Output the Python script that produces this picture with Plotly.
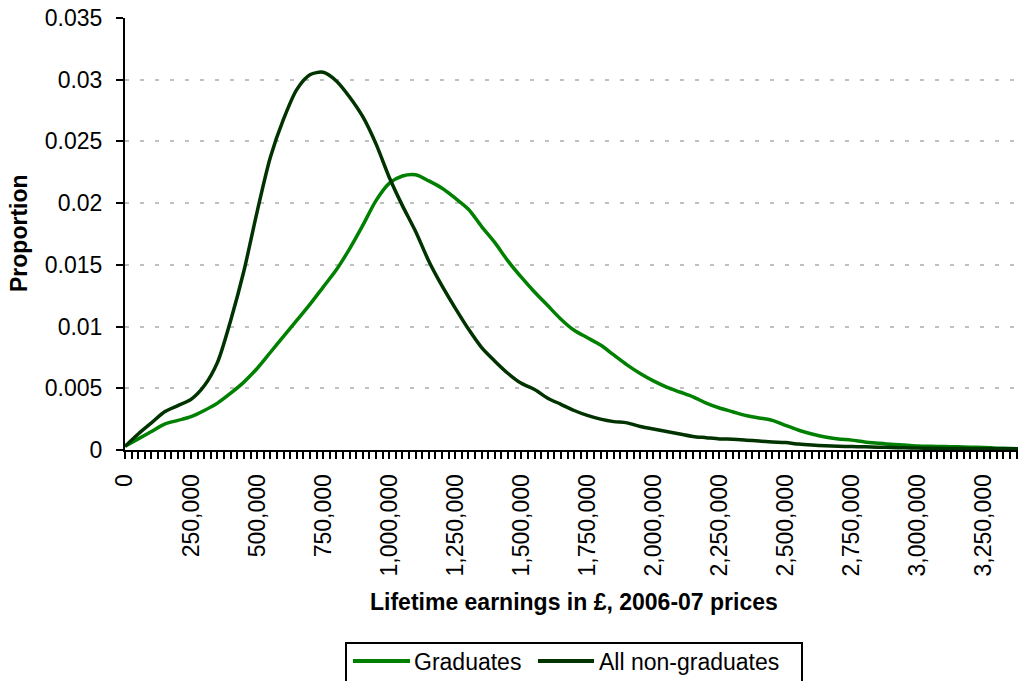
import plotly.graph_objects as go

earnings = [i * 50000 for i in range(69)]  # 0 .. 3,400,000

graduates = [
    0.0003, 0.0009, 0.0015, 0.0021, 0.0024, 0.0027, 0.0032, 0.0038, 0.0046, 0.0055,
    0.0066, 0.0079, 0.0092, 0.0105, 0.0118, 0.0132, 0.0146, 0.0163, 0.0182, 0.0202,
    0.0216, 0.0222, 0.0223, 0.0218, 0.0212, 0.0204, 0.0195, 0.0181, 0.0168, 0.0153,
    0.0140, 0.0128, 0.0117, 0.0106, 0.0097, 0.0091, 0.0085, 0.0077, 0.0069, 0.0062,
    0.0056, 0.0051, 0.0047, 0.0043, 0.0038, 0.0034, 0.0031, 0.0028, 0.0026, 0.0024,
    0.0020, 0.0016, 0.0013, 0.00106, 0.0009, 0.0008, 0.00065, 0.00055, 0.00046, 0.0004,
    0.00033, 0.0003, 0.00028, 0.00026, 0.00023, 0.0002, 0.00015, 0.00012, 0.0001,
]

non_graduates = [
    0.0003, 0.0013, 0.0022, 0.0031, 0.0036, 0.0041, 0.0052, 0.0071, 0.0105, 0.0145,
    0.0193, 0.0237, 0.0268, 0.0292, 0.0304, 0.0306, 0.0299, 0.0286, 0.0270, 0.0248,
    0.0221, 0.0198, 0.0177, 0.0153, 0.0133, 0.0115, 0.0098, 0.0083, 0.0072, 0.0062,
    0.0054, 0.0049, 0.0042, 0.0037, 0.0032, 0.0028, 0.0025, 0.0023, 0.0022, 0.0019,
    0.0017, 0.0015, 0.0013, 0.0011, 0.0010, 0.0009, 0.00087, 0.0008, 0.00072, 0.00065,
    0.0006, 0.00048, 0.0004, 0.00034, 0.0003, 0.00028, 0.00026, 0.00023, 0.0002, 0.00018,
    0.00016, 0.00014, 0.00013, 0.00012, 0.00011, 0.0001, 0.0001, 0.0001, 0.00009,
]

series_names = ["Graduates", "All non-graduates"]
series_colors = ["#008000", "#003300"]

x_title = "Lifetime earnings in £, 2006-07 prices"
y_title = "Proportion"

FONT = "Liberation Sans, Arial, sans-serif"
FS = 23

L, T, B = 125, 18, 231
W, H = 1018, 681
pw = W - L
ph = H - T - B


def px(xp):
    return (xp - L) / pw


def py(yp):
    return (T + ph - yp) / ph


fig = go.Figure()
for name, vals, col in zip(series_names, [graduates, non_graduates], series_colors):
    fig.add_trace(go.Scatter(x=earnings, y=vals, mode="lines", name=name,
                             line=dict(color=col, width=3.5, shape="spline", smoothing=0.8)))

# manual legend (box partly cut off at bottom like the reference)
shapes = [
    dict(type="rect", xref="paper", yref="paper", x0=px(346), x1=px(802), y0=py(643), y1=py(700),
         line=dict(color="black", width=2), fillcolor="white", layer="above"),
    dict(type="line", xref="paper", yref="paper", x0=px(353), x1=px(410), y0=py(661), y1=py(661),
         line=dict(color=series_colors[0], width=4), layer="above"),
    dict(type="line", xref="paper", yref="paper", x0=px(538), x1=px(594), y0=py(661), y1=py(661),
         line=dict(color=series_colors[1], width=4), layer="above"),
]
annotations = [
    dict(text=series_names[0], xref="paper", yref="paper", x=px(412), y=py(662),
         xanchor="left", yanchor="middle", showarrow=False, font=dict(size=FS)),
    dict(text=series_names[1], xref="paper", yref="paper", x=px(597), y=py(662),
         xanchor="left", yanchor="middle", showarrow=False, font=dict(size=FS)),
    dict(text="<b>" + x_title + "</b>", xref="paper", yref="paper",
         x=px(574), y=py(602), xanchor="center", yanchor="middle",
         showarrow=False, font=dict(size=FS)),
    dict(text="<b>" + y_title + "</b>", xref="paper", yref="paper",
         x=px(19), y=py(233), xanchor="center", yanchor="middle",
         textangle=-90, showarrow=False, font=dict(size=FS)),
]

fig.update_layout(
    width=W, height=H,
    margin=dict(l=L, r=0, t=T, b=B, autoexpand=False),
    paper_bgcolor="white", plot_bgcolor="white",
    font=dict(family=FONT, size=FS, color="black"),
    showlegend=False,
    xaxis=dict(range=[0, 3380000], tickmode="linear", tick0=0, dtick=250000,
               tickformat=",d", tickangle=-90, ticks="outside", ticklen=7,
               tickcolor="black", tickwidth=2, automargin=False,
               minor=dict(dtick=25000, ticks="outside", ticklen=7, tickcolor="black", tickwidth=1.5),
               showline=True, linecolor="black", linewidth=2, showgrid=False,
               zeroline=False, ticklabelstandoff=6, tickfont=dict(size=FS)),
    yaxis=dict(range=[0, 0.035], tickmode="linear", tick0=0, dtick=0.005,
               ticks="outside", ticklen=7, tickcolor="black", tickwidth=2, automargin=False,
               showline=True, linecolor="black", linewidth=2,
               showgrid=True, gridcolor="#c0c0c0", griddash="4px,11px", gridwidth=2,
               zeroline=False, ticklabelstandoff=9, tickfont=dict(size=FS)),
    shapes=shapes,
    annotations=annotations,
)

fig.write_html("out.html", config={"displayModeBar": False},
               post_script="document.body.style.margin='0px';document.body.style.overflow='hidden';")
